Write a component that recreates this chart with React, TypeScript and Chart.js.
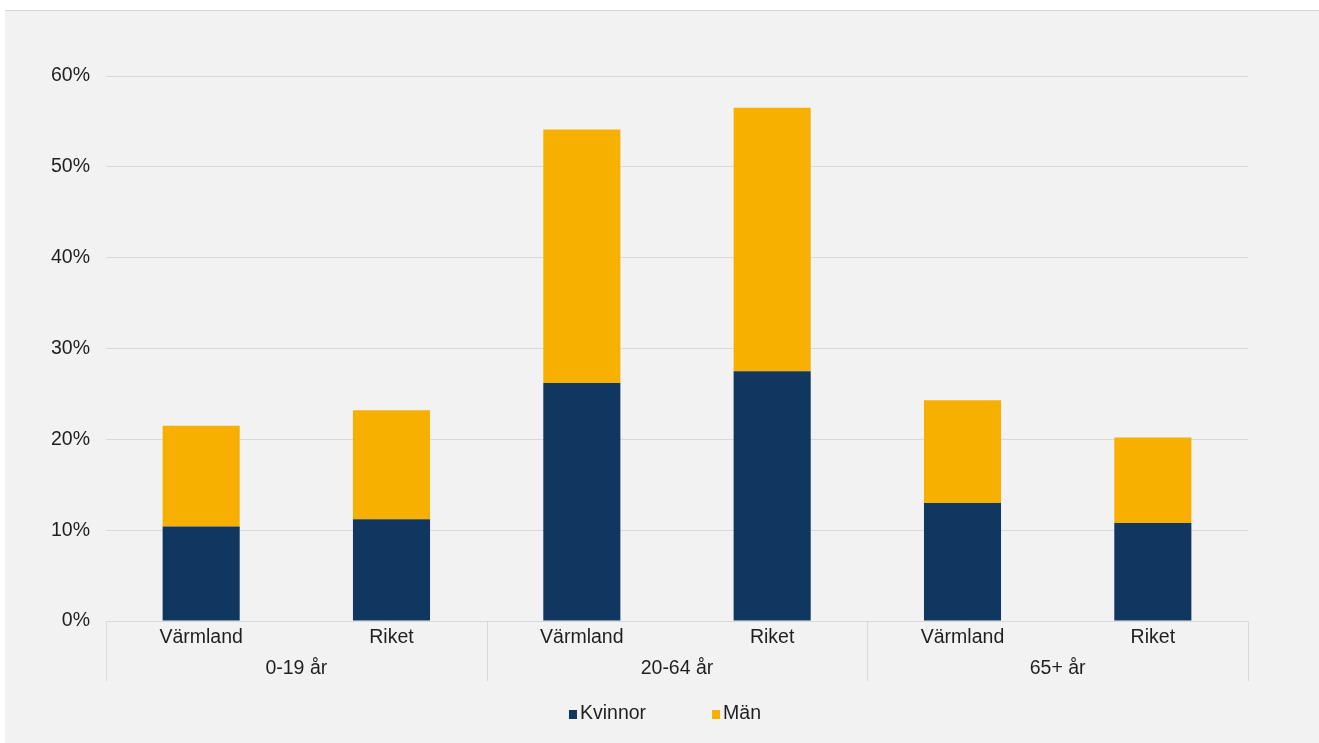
import React, { useEffect, useRef } from "react";
import { Chart, registerables } from "chart.js";

Chart.register(...registerables);

const categories = ["Värmland", "Riket", "Värmland", "Riket", "Värmland", "Riket"];
const groups = ["0-19 år", "20-64 år", "65+ år"];
const kvinnor = [10.4, 11.2, 26.2, 27.5, 13.0, 10.8];
const man = [11.1, 12.0, 27.9, 29.0, 11.3, 9.4];
const seriesNames = ["Kvinnor", "Män"];
const seriesColors = ["#10375f", "#f8b000"];
const yMax = 60;
const yStep = 10;

const FONT = "'Liberation Sans', Arial, Helvetica, sans-serif";
const FONT_SIZE = 19.5;
const TEXT = "#1f1f1f";
const GRID = "#d9d9d9";

const groupPlugin = {
  id: "groupPlugin",
  afterDraw(chart: any) {
    const ctx = chart.ctx;
    const x = chart.scales.x;
    const bottom = chart.chartArea.bottom;
    const step = x.getPixelForValue(1) - x.getPixelForValue(0);
    ctx.save();
    ctx.strokeStyle = GRID;
    ctx.lineWidth = 1;
    for (let g = 0; g <= groups.length; g++) {
      const px = Math.round(x.getPixelForValue(g * 2) - step / 2) + 0.5;
      ctx.beginPath();
      ctx.moveTo(px, bottom);
      ctx.lineTo(px, bottom + 60);
      ctx.stroke();
    }
    ctx.font = `${FONT_SIZE}px ${FONT}`;
    ctx.fillStyle = TEXT;
    ctx.textAlign = "center";
    ctx.textBaseline = "middle";
    groups.forEach((g, i) => {
      const cx = (x.getPixelForValue(i * 2) + x.getPixelForValue(i * 2 + 1)) / 2;
      ctx.fillText(g, cx, bottom + 48);
    });
    // legend
    const ds = chart.data.datasets;
    const box = 8;
    const gapText = 3;
    const gapItems = 66;
    const widths = ds.map((d: any) => box + gapText + ctx.measureText(d.label).width);
    const total = widths.reduce((a: number, b: number) => a + b, 0) + gapItems * (ds.length - 1);
    let lx = chart.width / 2 - total / 2 + 3;
    const ly = bottom + 93;
    ctx.textAlign = "left";
    ds.forEach((d: any, i: number) => {
      ctx.fillStyle = d.backgroundColor;
      ctx.fillRect(lx, ly - box / 2, box, box + 1);
      ctx.fillStyle = TEXT;
      ctx.fillText(d.label, lx + box + gapText, ly);
      lx += widths[i] + gapItems;
    });
    ctx.restore();
  },
};

export default function App() {
  const ref = useRef<HTMLCanvasElement | null>(null);
  useEffect(() => {
    if (!ref.current) return;
    const chart = new Chart(ref.current, {
      type: "bar",
      data: {
        labels: categories,
        datasets: [
          {
            label: seriesNames[0],
            data: kvinnor,
            backgroundColor: seriesColors[0],
            barPercentage: 0.405,
            categoryPercentage: 1,
          },
          {
            label: seriesNames[1],
            data: man,
            backgroundColor: seriesColors[1],
            barPercentage: 0.405,
            categoryPercentage: 1,
          },
        ],
      },
      options: {
        responsive: false,
        animation: false,
        devicePixelRatio: 1,
        layout: { padding: { top: 65, right: 71, bottom: 52, left: 0 } },
        plugins: {
          legend: { display: false },
          tooltip: { enabled: false },
        },
        scales: {
          x: {
            stacked: true,
            grid: { display: false, drawTicks: false },
            border: { display: false },
            ticks: {
              color: TEXT,
              font: { family: FONT, size: FONT_SIZE },
              padding: 5,
              maxRotation: 0,
              autoSkip: false,
            },
            afterFit(scale: any) {
              scale.height = 70;
            },
          },
          y: {
            stacked: true,
            min: 0,
            max: yMax,
            grid: { color: GRID, drawTicks: false, lineWidth: 1 },
            border: { display: false },
            ticks: {
              stepSize: yStep,
              color: TEXT,
              font: { family: FONT, size: FONT_SIZE },
              padding: 16,
              callback: (v: any) => `${v}%`,
            },
            afterFit(scale: any) {
              scale.width = 101;
            },
          },
        },
      },
      plugins: [groupPlugin],
    });
    return () => chart.destroy();
  }, []);

  return (
    <div
      style={{
        position: "absolute",
        left: 5,
        top: 10,
        width: 1314,
        height: 733,
        background: "#f2f2f2",
        borderTop: "1px solid #d4d4d4",
        boxSizing: "border-box",
      }}
    >
      <canvas ref={ref} width={1314} height={732} style={{ display: "block" }} />
    </div>
  );
}
